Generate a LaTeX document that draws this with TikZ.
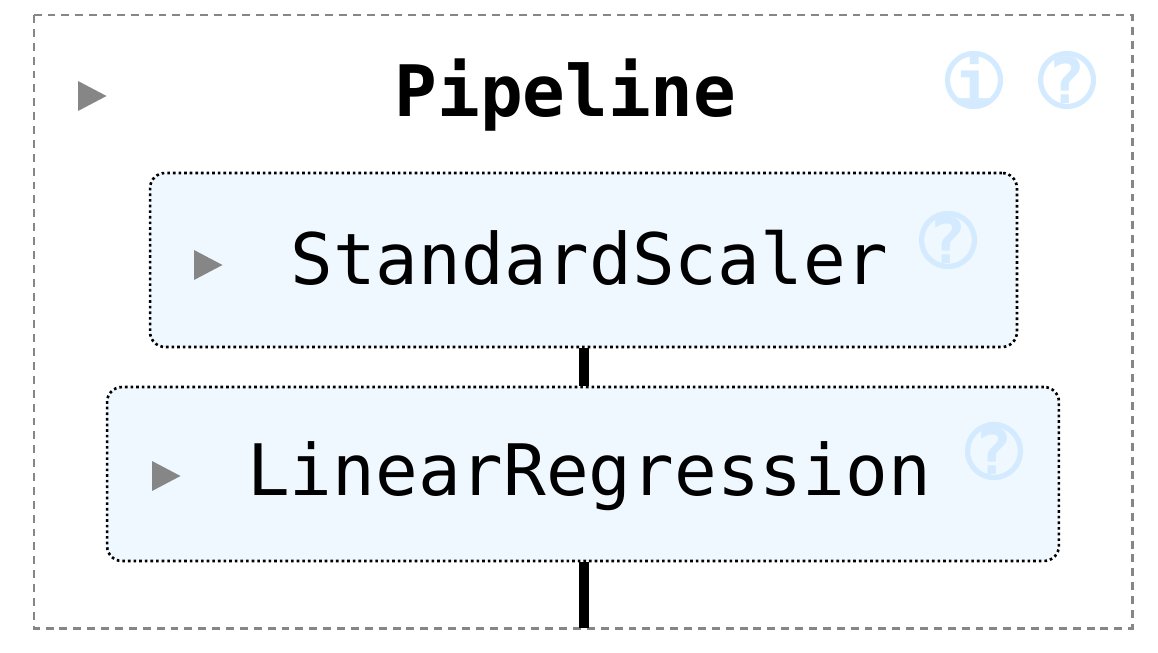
\documentclass[tikz,border=0pt]{standalone}
\usepackage{fontspec}
\setmainfont{DejaVu Sans}
\setmonofont{DejaVu Sans Mono}
\usepackage{xcolor}
\definecolor{boxfill}{HTML}{F0F8FF}
\definecolor{iconblue}{HTML}{D4EBFF}
\definecolor{framegray}{HTML}{868686}
\tikzset{
  estimator/.style={draw=black, fill=boxfill, line width=1.5pt, rounded corners=8.5pt,
    dash pattern=on 1.5pt off 1.7pt, minimum height=3.48cm},
  title/.style={font=\fontsize{40.4}{40}\selectfont\ttfamily, anchor=base, inner sep=0pt},
  roundicon/.style={circle, draw=iconblue, line width=3pt, minimum size=1.06cm, inner sep=0pt,
    label={[text=iconblue, inner sep=0pt, font=\fontsize{36}{36}\selectfont\ttfamily\bfseries]center:#1}},
  link/.style={line width=5.7pt, black},
  toggle/.style={fill=framegray},
}
\begin{document}
\begin{tikzpicture}[x=.02cm, y=-.02cm]
\useasboundingbox (0,0) rectangle (1158,652);

% outer box
\draw[framegray, line width=1.7pt, dash pattern=on 4.5pt off 3.4pt] (34,15) rectangle (1132,628);
\coordinate (pipeline end) at (584,628);

% estimators
\node[estimator, minimum width=17.34cm] (scaler) at (583.5,260) {};
\node[estimator, minimum width=19.04cm] (regressor) at (583,474) {};

% connectors
\draw[link] (scaler.south -| 584,0) -- (regressor.north -| 584,0);
\draw[link] (regressor.south -| 584,0) -- (pipeline end);

% labels
\node[title, font=\fontsize{40.4}{40}\selectfont\ttfamily\bfseries] (pipeline label) at (565.5,116) {Pipeline};
\node[title] (scaler label) at (589.5,284) {StandardScaler};
\node[title] (regressor label) at (589,495) {LinearRegression};

% toggles
\foreach \x/\y in {78/81, 194/250, 152/461}
  \fill[toggle] (\x,\y) -- ++(28.5,15) -- ++(-28.5,15) -- cycle;

% icons
\node[roundicon=i] (pipeline info) at (974,80) {};
\node[roundicon=?] (pipeline help) at (1067,80) {};
\node[roundicon=?] (scaler help) at (948,240) {};
\node[roundicon=?] (regressor help) at (994,451) {};
\end{tikzpicture}
\end{document}
